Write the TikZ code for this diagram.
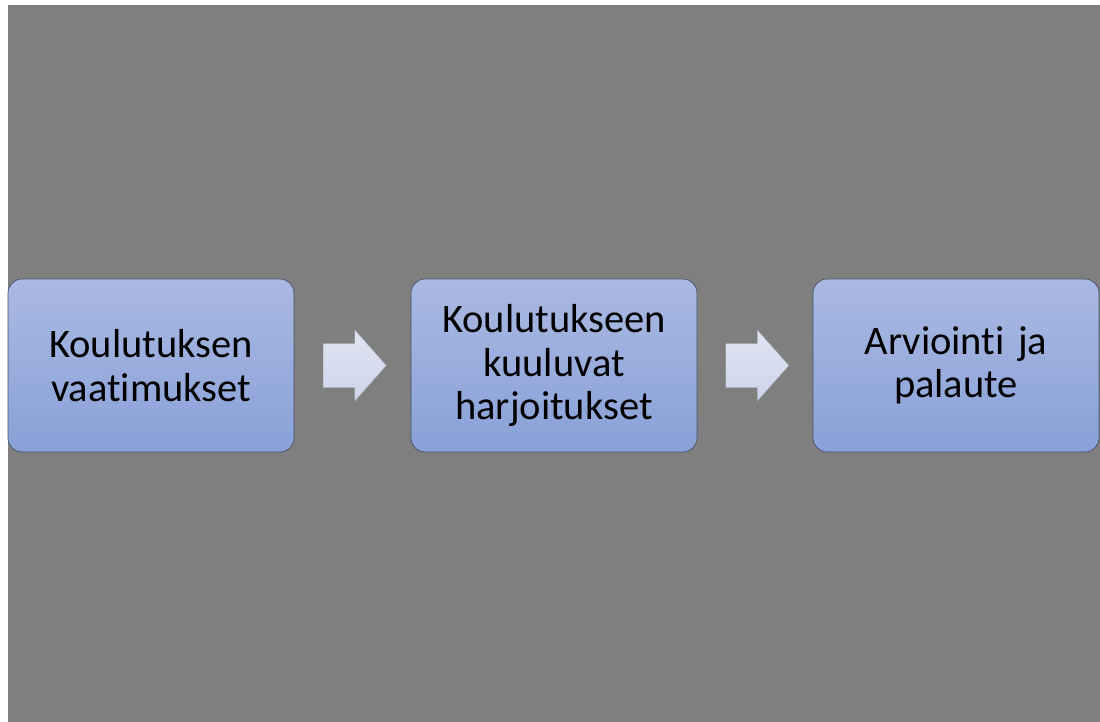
\documentclass[tikz,border=0pt]{standalone}
\usepackage{fontspec}
\setmainfont{Carlito}[RawFeature={-liga;-clig;-dlig;-calt}]
\definecolor{slide}{RGB}{127,127,127}
\definecolor{boxtop}{RGB}{170,185,226}
\definecolor{boxbottom}{RGB}{137,161,216}
\definecolor{boxline}{RGB}{70,80,105}
\definecolor{arrowtop}{RGB}{224,228,243}
\definecolor{arrowbottom}{RGB}{206,213,234}
\begin{document}
\begin{tikzpicture}[x=1pt,y=-1pt,
    stage/.style={draw=boxline, line width=0.7pt, rounded corners=14pt,
        top color=boxtop, bottom color=boxbottom,
        minimum width=286pt, minimum height=173pt, inner sep=0pt,
        align=center, text width=270pt, font=\fontsize{40.5}{43.5}\selectfont},
    flow/.style={draw=arrowbottom!80!black, line width=0.3pt,
        top color=arrowtop, bottom color=arrowbottom}]
    % Background
        \useasboundingbox (0,0) rectangle (1100,722);
        \fill[white] (0,0) rectangle (1100,722);
        \fill[slide] (8,5) rectangle (1100,722);
    % Stages
        \node[stage] (vaatimukset) at (151,365.5) {Koulutuksen\\vaat\kern0pt imukset};
        \node[stage] (harjoitukset) at (554,365.5) {Koulutukseen\\kuuluvat\\harjoitukset};
        \node[stage] (palaute) at (956,365.5) {Arviointi ja\\palaute};
    % Arrows
        \path (vaatimukset.east) -- (harjoitukset.west) coordinate[pos=0.52] (nuoli1);
        \path (harjoitukset.east) -- (palaute.west) coordinate[pos=0.52] (nuoli2);
        \foreach \n in {nuoli1,nuoli2}{
            \draw[flow,shift={(\n)}] (-31.5,-22) -- (0,-22) -- (0,-35.5) -- (31.5,0)
                -- (0,35.5) -- (0,22) -- (-31.5,22) -- cycle;
        }
\end{tikzpicture}
\end{document}
